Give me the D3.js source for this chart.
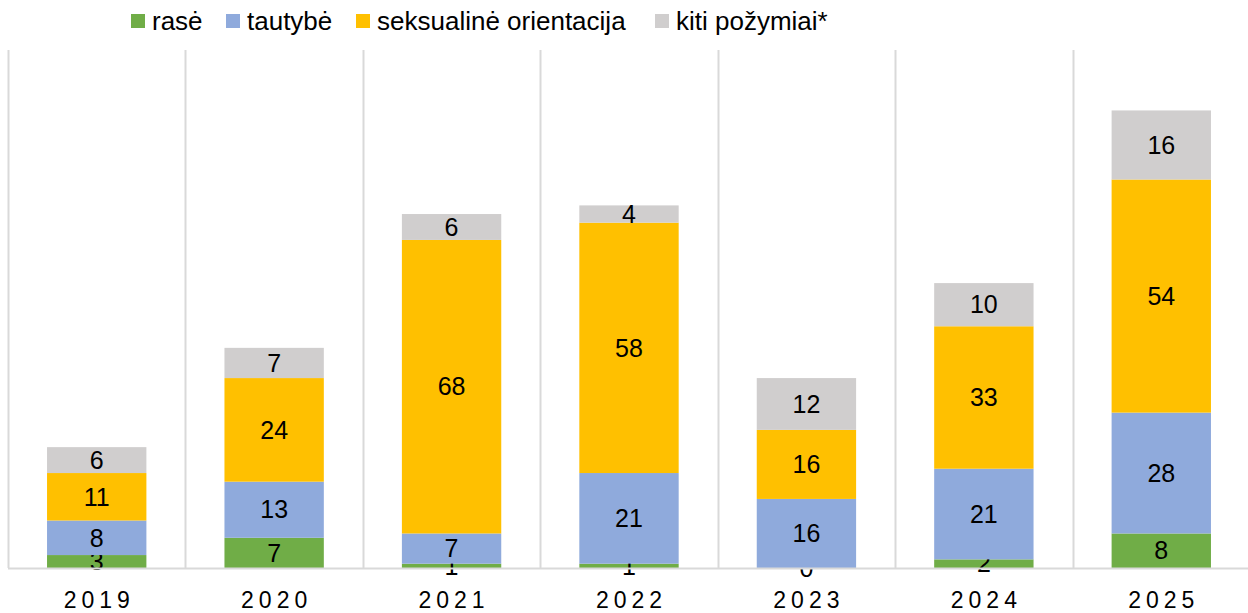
<!DOCTYPE html>
<html>
<head>
<meta charset="utf-8">
<script src="https://cdn.jsdelivr.net/npm/d3@7"></script>
<style>
  body { margin: 0; background: #fff; }
  text { font-family: Arial, "Liberation Sans", sans-serif; }
</style>
</head>
<body>
<script>
(function(d3) {
    'use strict';

    var years = ['2019', '2020', '2021', '2022', '2023', '2024', '2025'];
    var seriesNames = ['rasė', 'tautybė', 'seksualinė orientacija', 'kiti požymiai*'];
    var rase = [3, 7, 1, 1, 0, 2, 8];
    var tautybe = [8, 13, 7, 21, 16, 21, 28];
    var orientacija = [11, 24, 68, 58, 16, 33, 54];
    var kiti = [6, 7, 6, 4, 12, 10, 16];
    var colors = ['#70ad47', '#8faadc', '#ffc000', '#d0cece'];

    var settings = {
        width: 1248,
        height: 613,
        left: 8,
        right: 1250,
        top: 50,
        bottom: 568,
        barRatio: 0.56,
        yMax: 120
    };

    var rows = years.map(function(y, i) {
        return { year: y, s0: rase[i], s1: tautybe[i], s2: orientacija[i], s3: kiti[i] };
    });
    var keys = ['s0', 's1', 's2', 's3'];
    var stacked = d3.stack().keys(keys)(rows);

    var svg = d3.select('body')
        .append('svg')
        .attr('width', settings.width)
        .attr('height', settings.height);

    var x = d3.scaleBand()
        .domain(years)
        .range([settings.left, settings.right])
        .padding(0);

    var y = d3.scaleLinear()
        .domain([0, settings.yMax])
        .range([settings.bottom, settings.top]);

    // vertical separators between categories
    var bounds = years.map(function(d) { return x(d); }).concat([settings.right]);
    svg.append('g').selectAll('line')
        .data(bounds)
        .enter()
        .append('line')
        .attr('x1', function(d) { return Math.round(d) + 0.5; })
        .attr('x2', function(d) { return Math.round(d) + 0.5; })
        .attr('y1', settings.top)
        .attr('y2', settings.bottom)
        .attr('stroke', '#d9d9d9')
        .attr('stroke-width', 2);

    var barW = x.bandwidth() * settings.barRatio;

    var layer = svg.selectAll('g.layer')
        .data(stacked)
        .enter()
        .append('g')
        .attr('class', 'layer')
        .attr('fill', function(d, i) { return colors[i]; });

    layer.selectAll('rect')
        .data(function(d) { return d; })
        .enter()
        .append('rect')
        .attr('x', function(d) { return x(d.data.year) + (x.bandwidth() - barW) / 2; })
        .attr('width', barW)
        .attr('y', function(d) { return y(d[1]); })
        .attr('height', function(d) { return y(d[0]) - y(d[1]); });

    // baseline
    svg.append('line')
        .attr('x1', settings.left)
        .attr('x2', settings.width)
        .attr('y1', settings.bottom + 0.5)
        .attr('y2', settings.bottom + 0.5)
        .attr('stroke', '#d9d9d9')
        .attr('stroke-width', 2);

    // value labels
    layer.selectAll('text')
        .data(function(d) { return d; })
        .enter()
        .append('text')
        .attr('x', function(d) { return x(d.data.year) + x.bandwidth() / 2; })
        .attr('y', function(d) { return (y(d[0]) + y(d[1])) / 2; })
        .attr('dy', '0.35em')
        .attr('text-anchor', 'middle')
        .attr('fill', '#000')
        .style('font-size', '25px')
        .text(function(d) { return d[1] - d[0]; });

    // x axis labels
    svg.append('g').selectAll('text')
        .data(years)
        .enter()
        .append('text')
        .attr('x', function(d) { return x(d) + x.bandwidth() / 2 + 2.5; })
        .attr('y', 608)
        .attr('text-anchor', 'middle')
        .style('font-size', '23px')
        .style('letter-spacing', '5px')
        .attr('fill', '#000')
        .text(function(d) { return d; });

    // legend
    var legendX = [131, 226, 356, 655];
    var legend = svg.append('g').selectAll('g')
        .data(seriesNames)
        .enter()
        .append('g')
        .attr('transform', function(d, i) { return 'translate(' + legendX[i] + ', 0)'; });

    legend.append('rect')
        .attr('x', 0)
        .attr('y', 14)
        .attr('width', 14)
        .attr('height', 14)
        .attr('fill', function(d, i) { return colors[i]; });

    legend.append('text')
        .attr('x', 21)
        .attr('y', 30)
        .style('font-size', '26px')
        .attr('fill', '#000')
        .text(function(d) { return d; });

})(window.d3);
</script>
</body>
</html>
